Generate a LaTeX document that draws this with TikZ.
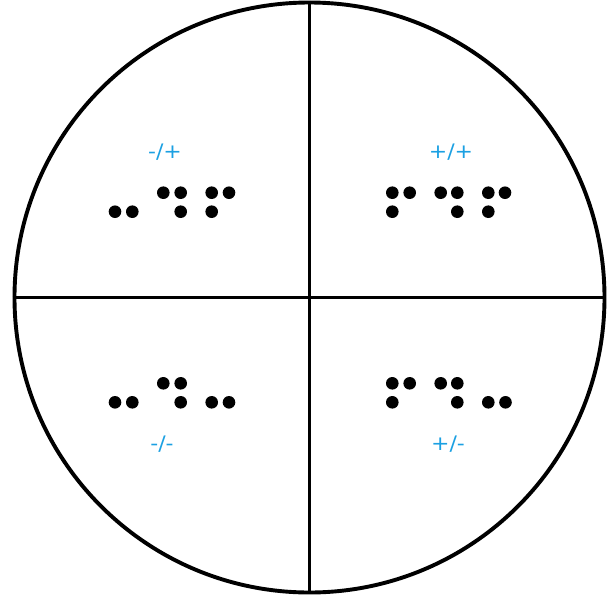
\documentclass[tikz,border=0pt]{standalone}
\usepackage{fontspec}
\setmainfont{DejaVu Sans}
\newfontfamily\signfont{DejaVu Sans}[FakeStretch=1.1]
\definecolor{signblue}{RGB}{27,160,226}
\begin{document}
\begin{tikzpicture}[x=1pt,y=-1pt,
rim/.style={draw=black,line width=3.9pt},
sign/.style={text=signblue,font=\signfont\fontsize{20}{22}\selectfont,inner sep=0pt},
dot/.style={fill=black}]
\useasboundingbox (0,0) rectangle (616,598);
\node[rim,circle,minimum size=590pt,inner sep=0pt] (disc) at (309.5,297.5) {};
\draw[rim] (disc.north)--(disc.south);
\draw[rim] (disc.west)--(disc.east);
\node[sign] (mp) at (165,152.5) {-/+};
\node[sign] (pp) at (451,152.5) {+/+};
\node[sign] (mm) at (162,444.5) {-/-};
\node[sign] (pm) at (448,444.5) {+/-};
\foreach \x/\y in {115/211.7,132.3/211.7,163.3/192.7,180.7/192.7,180.7/211.7,211.7/192.7,229/192.7,211.7/211.7,
392.3/192.7,409.7/192.7,392.3/211.7,440.7/192.7,457.3/192.7,457.3/211.7,488.3/192.7,505/192.7,488.3/211.7,
115/402.3,132.3/402.3,163.3/383.3,180.7/383.3,180.7/402.3,211.7/402.3,229/402.3,
392.3/383.3,409.7/383.3,392.3/402.3,440.7/383.3,457.3/383.3,457.3/402.3,488.3/402.3,505.5/402.3}
  \fill[dot] (\x,\y) circle[radius=6.3pt];
\end{tikzpicture}
\end{document}
